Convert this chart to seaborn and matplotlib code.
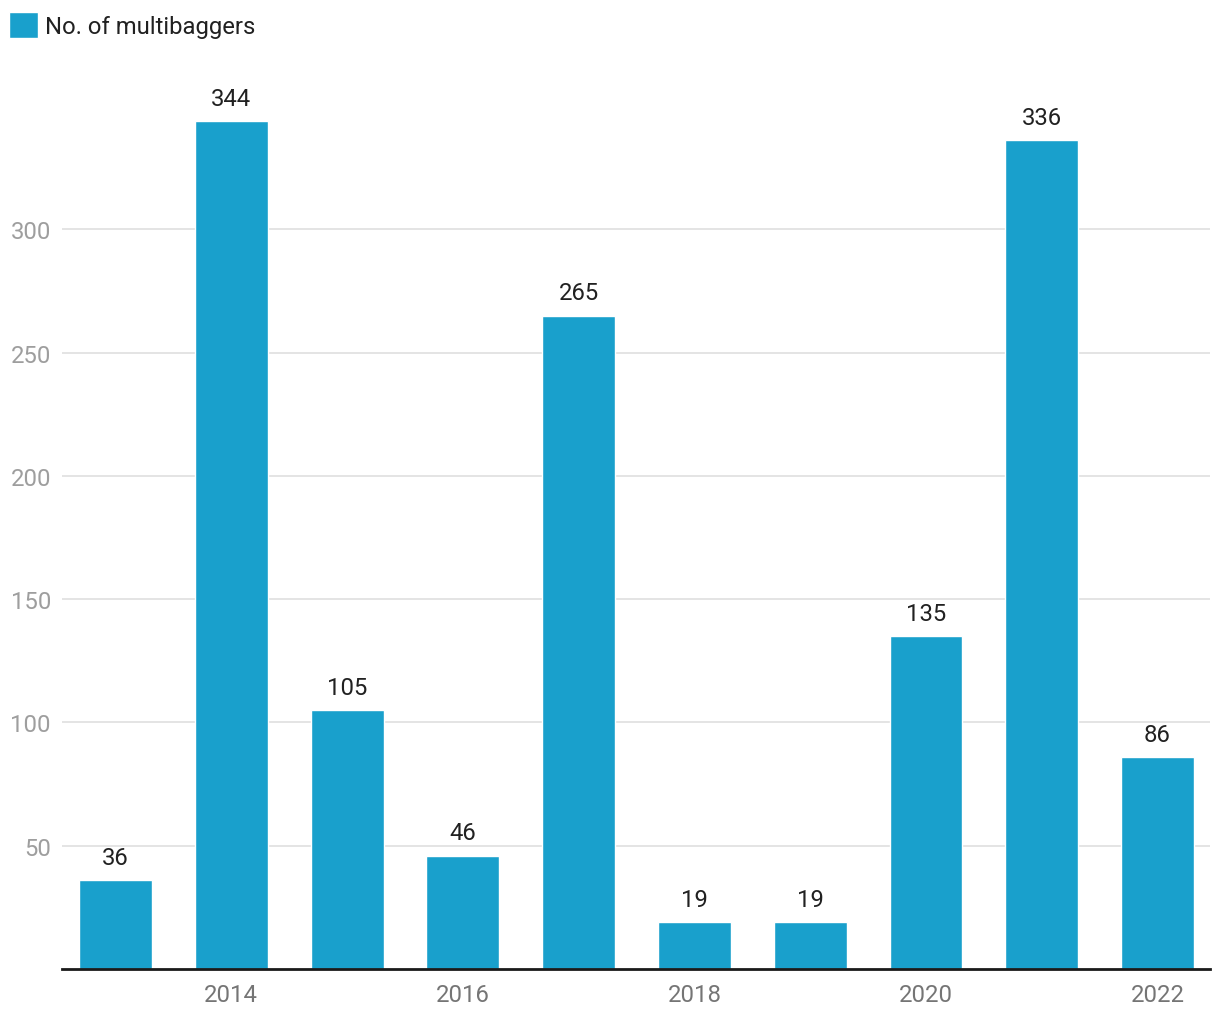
import matplotlib
matplotlib.use("Agg")
import matplotlib.pyplot as plt
import seaborn as sns
import pandas as pd

years = ["2013", "2014", "2015", "2016", "2017", "2018", "2019", "2020", "2021", "2022"]
values = [36, 344, 105, 46, 265, 19, 19, 135, 336, 86]
shown_years = ["2014", "2016", "2018", "2020", "2022"]
y_ticks = [50, 100, 150, 200, 250, 300]
series_name = "No. of multibaggers"

sns.set_theme(style="white")
plt.rcParams["font.family"] = ["Roboto", "DejaVu Sans"]

df = pd.DataFrame({"year": years, "value": values})

W, H = 1220, 1020
fig = plt.figure(figsize=(W / 100, H / 100), dpi=100)
left, right, bottom, top = 62, 1210, 970, 65
ax = fig.add_axes([left / W, 1 - bottom / H, (right - left) / W, (bottom - top) / H])

color = "#19a0cc"
sns.barplot(data=df, x="year", y="value", color=color, width=0.63,
            saturation=1, ax=ax, label=series_name)

ax.set_xlim(-0.462, len(years) - 1 + 0.453)
ax.set_ylim(0, 367)
ax.set_yticks(y_ticks)
ax.set_yticklabels([str(t) for t in y_ticks])
ax.set_xticks([years.index(y) for y in shown_years])
ax.set_xticklabels(shown_years)
ax.set_xlabel("")
ax.set_ylabel("")

ax.grid(axis="y", color="#e2e2e2", linewidth=1.3)
ax.set_axisbelow(True)
for s in ["left", "right", "top"]:
    ax.spines[s].set_visible(False)
ax.spines["bottom"].set_color("#1a1a1a")
ax.spines["bottom"].set_linewidth(2)

fs = 17.2
ax.tick_params(axis="y", length=0, pad=8, labelsize=fs, labelcolor="#9e9e9e")
ax.tick_params(axis="x", length=0, pad=10, labelsize=fs, labelcolor="#757575")

for cont in ax.containers:
    ax.bar_label(cont, labels=[str(v) for v in values], padding=8,
                 fontsize=fs, color="#212121")

leg = ax.legend(loc="upper left", bbox_to_anchor=(9 / W, 1 - 13 / H),
                bbox_transform=fig.transFigure,
                frameon=False, fontsize=fs, handlelength=1.22, handleheight=1.3,
                handletextpad=0.28, borderaxespad=0, borderpad=0)
for t in leg.get_texts():
    t.set_color("#212121")

fig.savefig("out.png", dpi=100)
